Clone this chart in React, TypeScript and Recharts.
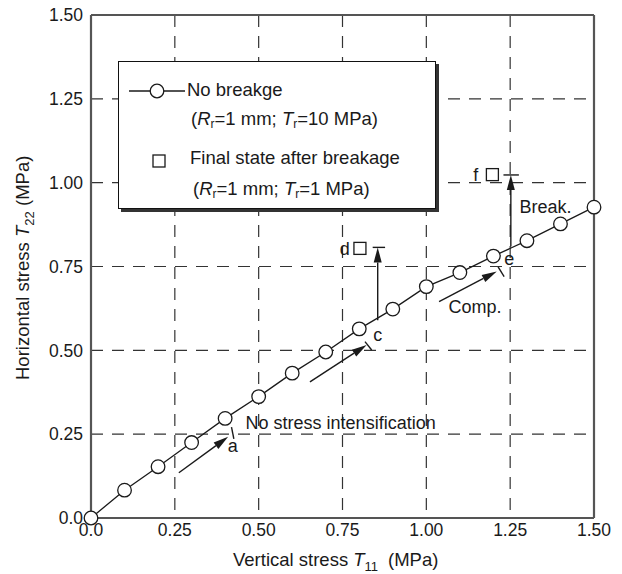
import {
  CartesianGrid,
  ReferenceDot,
  ReferenceLine,
  Scatter,
  ScatterChart,
  XAxis,
  YAxis,
} from "recharts";

const verticalStress = [0, 0.1, 0.2, 0.3, 0.4, 0.5, 0.6, 0.7, 0.8, 0.9, 1.0, 1.1, 1.2, 1.3, 1.4, 1.5];
const horizontalStress = [0, 0.083, 0.153, 0.225, 0.297, 0.362, 0.432, 0.495, 0.564, 0.623, 0.69, 0.732, 0.781, 0.827, 0.877, 0.927];

const brokenVertical = [0.802, 1.197];
const brokenHorizontal = [0.804, 1.024];

const axisTicks = [0, 0.25, 0.5, 0.75, 1.0, 1.25, 1.5];

// arrows drawn on the plot, in data units
const arrows = [
  { from: [0.262, 0.135], to: [0.409, 0.242] },
  { from: [0.653, 0.406], to: [0.822, 0.516] },
  { from: [1.038, 0.645], to: [1.21, 0.735] },
  { from: [0.855, 0.59], to: [0.855, 0.807] },
  { from: [1.252, 0.81], to: [1.252, 1.023] },
];

// short marks (state ticks, caps of the vertical arrows)
const marks = [
  { from: [0.419, 0.271], to: [0.426, 0.236] },
  { from: [0.817, 0.526], to: [0.837, 0.501] },
  { from: [1.214, 0.749], to: [1.232, 0.72] },
  { from: [0.84, 0.807], to: [0.877, 0.807] },
  { from: [1.23, 1.023], to: [1.276, 1.023] },
];

const notes = [
  { x: 0.461, y: 0.283, text: "No stress intensification" },
  { x: 1.066, y: 0.63, text: "Comp." },
  { x: 1.278, y: 0.929, text: "Break." },
  { x: 0.408, y: 0.217, text: "a" },
  { x: 0.842, y: 0.546, text: "c" },
  { x: 0.742, y: 0.804, text: "d" },
  { x: 1.232, y: 0.774, text: "e" },
  { x: 1.14, y: 1.023, text: "f" },
];

const noBreakage = verticalStress.map((x, i) => ({ x, y: horizontalStress[i] }));
const afterBreakage = brokenVertical.map((x, i) => ({ x, y: brokenHorizontal[i] }));

const FONT = "'Liberation Sans', Arial, Helvetica, sans-serif";
const INK = "#1a1a1a";

const Circle = (p: any) => (
  <circle cx={p.cx} cy={p.cy} r={6.8} fill="#fff" stroke={INK} strokeWidth={1.3} />
);

const Square = (p: any) => (
  <rect x={p.cx - 6} y={p.cy - 6} width={12} height={12} fill="#fff" stroke={INK} strokeWidth={1.3} />
);

const Arrow = (p: any) => {
  const { x1, y1, x2, y2 } = p;
  const ang = Math.atan2(y2 - y1, x2 - x1);
  const len = 15;
  const half = 4;
  const bx = x2 - len * Math.cos(ang);
  const by = y2 - len * Math.sin(ang);
  const px = -Math.sin(ang) * half;
  const py = Math.cos(ang) * half;
  return (
    <g>
      <line x1={x1} y1={y1} x2={bx} y2={by} stroke={INK} strokeWidth={1.4} />
      <polygon points={`${x2},${y2} ${bx + px},${by + py} ${bx - px},${by - py}`} fill={INK} />
    </g>
  );
};

const Mark = (p: any) => (
  <line x1={p.x1} y1={p.y1} x2={p.x2} y2={p.y2} stroke={INK} strokeWidth={1.4} />
);

const fmt = (v: number) => (v === 0 ? "0.0" : v.toFixed(2));

const sub = { fontSize: 12, verticalAlign: "-3px", lineHeight: 0 } as const;

function LegendBox() {
  return (
    <div
      style={{
        position: "absolute",
        left: 118,
        top: 61,
        width: 316,
        height: 146,
        background: "#fff",
        border: "1.5px solid #111",
        boxShadow: "3px 3px 0 #333",
        fontFamily: FONT,
        fontSize: 18.5,
        color: INK,
      }}
    >
      <svg style={{ position: "absolute", left: 0, top: 0 }} width={70} height={120}>
        <line x1={10} y1={29} x2={66} y2={29} stroke={INK} strokeWidth={1.3} />
        <circle cx={38} cy={29} r={6.8} fill="#fff" stroke={INK} strokeWidth={1.3} />
        <rect x={34} y={93} width={12} height={12} fill="#fff" stroke={INK} strokeWidth={1.3} />
      </svg>
      <div style={{ position: "absolute", left: 68, top: 17, whiteSpace: "nowrap" }}>No breakge</div>
      <div style={{ position: "absolute", left: 72, top: 46, whiteSpace: "nowrap" }}>
        (<i>R</i><span style={sub}>r</span>=1 mm; <i>T</i><span style={sub}>r</span>=10 MPa)
      </div>
      <div style={{ position: "absolute", left: 71, top: 85, whiteSpace: "nowrap" }}>
        Final state after breakage
      </div>
      <div style={{ position: "absolute", left: 74, top: 116, whiteSpace: "nowrap" }}>
        (<i>R</i><span style={sub}>r</span>=1 mm; <i>T</i><span style={sub}>r</span>=1 MPa)
      </div>
    </div>
  );
}

export default function App() {
  const tick = { fill: INK, fontSize: 17.5, fontFamily: FONT };
  return (
    <div style={{ position: "absolute", left: 0, top: 0, width: 622, height: 574, background: "#fff" }}>
      <ScatterChart width={622} height={574} margin={{ top: 15, right: 28, bottom: 0, left: 0 }}>
        <CartesianGrid stroke="#333" strokeWidth={1.2} strokeDasharray="12 9" />
        <XAxis
          type="number"
          dataKey="x"
          domain={[0, 1.5]}
          ticks={axisTicks}
          tickFormatter={fmt}
          height={56}
          tickLine={false}
          tickSize={0}
          tickMargin={6}
          tick={tick}
          axisLine={{ stroke: "#555", strokeWidth: 2.2 }}
          label={() => (
            <text x={233} y={566} fontFamily={FONT} fontSize={18.5} fill={INK}>
              Vertical stress <tspan fontStyle="italic">T</tspan>
              <tspan fontSize={13} dy={5}>11</tspan>
              <tspan x={388} dy={-5}>(MPa)</tspan>
            </text>
          )}
        />
        <YAxis
          type="number"
          dataKey="y"
          domain={[0, 1.5]}
          ticks={axisTicks}
          tickFormatter={fmt}
          width={91}
          tickLine={false}
          tickSize={0}
          tickMargin={8}
          tick={tick}
          axisLine={{ stroke: "#555", strokeWidth: 2.2 }}
          label={() => (
            <text
              x={0}
              y={0}
              transform="translate(29 380) rotate(-90)"
              fontFamily={FONT}
              fontSize={18.5}
              fill={INK}
            >
              Horizontal stress <tspan fontStyle="italic">T</tspan>
              <tspan fontSize={13} dy={5}>22</tspan>
              <tspan x={174} dy={-5}>(MPa)</tspan>
            </text>
          )}
        />
        <ReferenceLine x={1.5} stroke="#555" strokeWidth={2.2} />
        <ReferenceLine y={1.5} stroke="#555" strokeWidth={2.2} />
        {marks.map((m, i) => (
          <ReferenceLine
            key={`m${i}`}
            segment={[{ x: m.from[0], y: m.from[1] }, { x: m.to[0], y: m.to[1] }]}
            shape={Mark}
          />
        ))}
        {arrows.map((a, i) => (
          <ReferenceLine
            key={`a${i}`}
            segment={[{ x: a.from[0], y: a.from[1] }, { x: a.to[0], y: a.to[1] }]}
            shape={Arrow}
          />
        ))}
        <Scatter
          data={noBreakage}
          line={{ stroke: INK, strokeWidth: 1.3 }}
          shape={Circle}
          isAnimationActive={false}
        />
        <Scatter data={afterBreakage} shape={Square} isAnimationActive={false} />
        {notes.map((n, i) => (
          <ReferenceDot
            key={`n${i}`}
            x={n.x}
            y={n.y}
            r={0}
            shape={(p: any) => (
              <text x={p.cx} y={p.cy} dy="0.35em" fontFamily={FONT} fontSize={18} fill={INK}>
                {n.text}
              </text>
            )}
          />
        ))}
      </ScatterChart>
      <LegendBox />
    </div>
  );
}
